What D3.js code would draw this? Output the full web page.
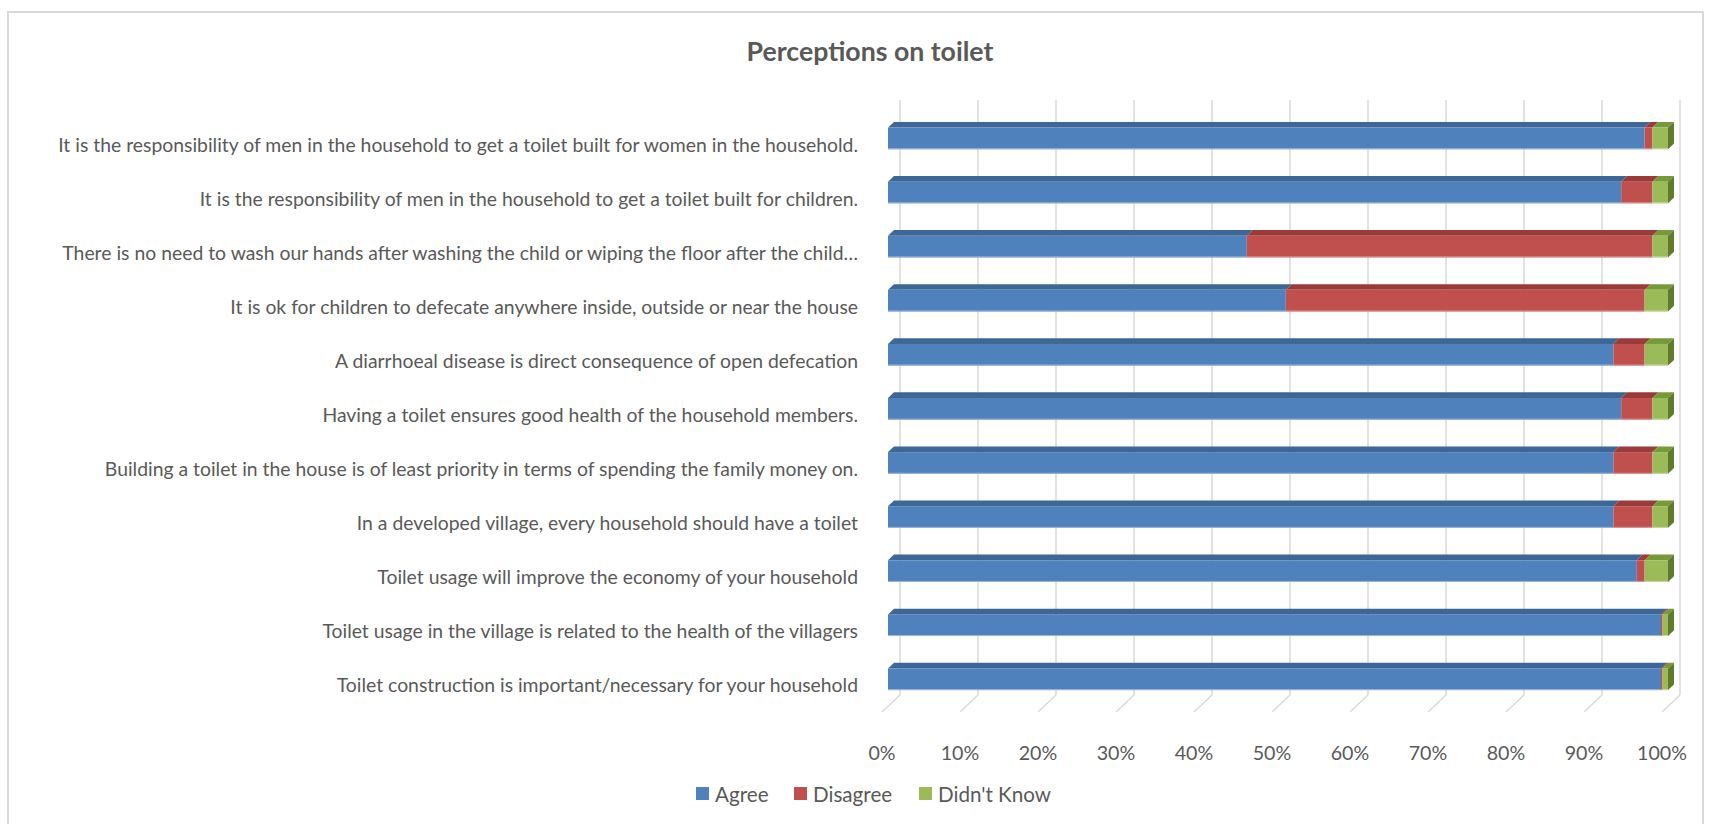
<!DOCTYPE html>
<html>
<head>
<meta charset="utf-8">
<script src="https://cdn.jsdelivr.net/npm/d3@7"></script>
<style>
  html, body { margin: 0; padding: 0; background: #fff; }
  svg { display: block; }
</style>
</head>
<body>
<svg id="chart" width="1711" height="824"></svg>
<script>
// Survey statements, listed top to bottom
const categories = [
  "It is the responsibility of men in the household to get a toilet built for women in the household.",
  "It is the responsibility of men in the household to get a toilet built for children.",
  "There is no need to wash our hands after washing the child or wiping the floor after the child\u2026",
  "It is ok for children to defecate anywhere inside, outside or near the house",
  "A diarrhoeal disease is direct consequence of open defecation",
  "Having a toilet ensures good health of the household members.",
  "Building a toilet in the house is of least priority in terms of spending the family money on.",
  "In a developed village, every household should have a toilet",
  "Toilet usage will improve the economy of your household",
  "Toilet usage in the village is related to the health of the villagers",
  "Toilet construction is important/necessary for your household"
];

// Share of responses (%) per statement
const agree     = [97, 94, 46, 51, 93, 94, 93, 93, 96, 99.1, 99.1];
const disagree  = [1,  4,  52, 46, 4,  4,  5,  5,  1,  0.2,  0.2];
const didntKnow = [2,  2,  2,  3,  3,  2,  2,  2,  3,  0.7,  0.7];

const seriesNames = ["Agree", "Disagree", "Didn't Know"];
const tickValues = [0, 0.1, 0.2, 0.3, 0.4, 0.5, 0.6, 0.7, 0.8, 0.9, 1.0];

const FONT = "Lato, 'Open Sans', sans-serif";
const TEXT = "#595959";
const GRID = "#d9d9d9";

const faces = {
  "Agree":       { front: "#4f81bd", top: "#3d6796", side: "#35598a", edge: "#9cb6d9" },
  "Disagree":    { front: "#c0504d", top: "#9a3b39", side: "#86302e", edge: "#dc9a98" },
  "Didn't Know": { front: "#9bbb59", top: "#779a38", side: "#5f7c2c", edge: "#c7da9e" }
};

const svg = d3.select("#chart");

// Font size that makes a string span a given width
function fitSize(str, width, weight) {
  const t = svg.append("text").attr("font-family", FONT).attr("font-size", 100)
    .attr("font-weight", weight || "normal").text(str);
  const len = t.node().getComputedTextLength();
  t.remove();
  return 100 * width / len;
}

// Outer chart border
svg.append("rect")
  .attr("x", 8).attr("y", 12).attr("width", 1695).attr("height", 830)
  .attr("fill", "none").attr("stroke", GRID).attr("stroke-width", 2);

// Title
svg.append("text")
  .attr("x", 870).attr("y", 51)
  .attr("text-anchor", "middle").attr("dominant-baseline", "central")
  .attr("font-family", FONT).attr("font-weight", "bold")
  .attr("font-size", fitSize("Perceptions on toilet", 247, "bold"))
  .attr("fill", TEXT)
  .text("Perceptions on toilet");

// Oblique 3D projection: front plane scales plus a depth vector
const depth = { dx: 18, dy: -17 };
const x = d3.scaleLinear().domain([0, 1]).range([882, 1662]);
const y = d3.scaleBand().domain(categories).range([117, 712])
  .paddingInner(0.6).paddingOuter(0.3);

// Back-wall gridlines and floor lines
const grid = svg.append("g");
tickValues.forEach(v => {
  const bx = x(v) + depth.dx;
  const floorBack = 712 + depth.dy;
  grid.append("line")
    .attr("x1", bx).attr("x2", bx)
    .attr("y1", 117 + depth.dy).attr("y2", floorBack)
    .attr("stroke", GRID).attr("stroke-width", 1.5);
  grid.append("line")
    .attr("x1", bx).attr("y1", floorBack)
    .attr("x2", x(v)).attr("y2", 712)
    .attr("stroke", GRID).attr("stroke-width", 1.5);
});

// Tick labels along the front edge
const tickFont = fitSize("100%", 50);
const fmt = d3.format(".0%");
svg.append("g").selectAll("text").data(tickValues).join("text")
  .attr("x", d => x(d)).attr("y", 752)
  .attr("text-anchor", "middle").attr("dominant-baseline", "central")
  .attr("font-family", FONT).attr("font-size", tickFont)
  .attr("fill", TEXT)
  .text(d => fmt(d));

// Category labels
const labelFont = fitSize(categories[0], 800);
svg.append("g").selectAll("text").data(categories).join("text")
  .attr("x", 858).attr("y", d => y(d) + y.bandwidth() / 2)
  .attr("text-anchor", "end").attr("dominant-baseline", "central")
  .attr("font-family", FONT).attr("font-size", labelFont)
  .attr("fill", TEXT)
  .text(d => d);

// Stacked data
const rows = categories.map((c, i) => ({
  cat: c, "Agree": agree[i], "Disagree": disagree[i], "Didn't Know": didntKnow[i]
}));
const stacked = d3.stack().keys(seriesNames).offset(d3.stackOffsetExpand)(rows);

// Bars sit in the middle third of the depth
const fx = depth.dx / 3, fy = depth.dy / 3;
const bars = svg.append("g");
rows.forEach((row, i) => {
  const y0 = y(row.cat) + fy;
  const h = y.bandwidth();
  const segs = stacked.map(s => ({ key: s.key, a: s[i][0], b: s[i][1] }))
    .filter(s => s.b - s.a > 0);
  segs.forEach((s, j) => {
    const c = faces[s.key];
    const xa = x(s.a) + fx, xb = x(s.b) + fx;
    // top face
    bars.append("path")
      .attr("d", `M${xa},${y0}L${xa + fx},${y0 + fy}L${xb + fx},${y0 + fy}L${xb},${y0}Z`)
      .attr("fill", c.top);
    // right face of the last segment
    if (j === segs.length - 1) {
      bars.append("path")
        .attr("d", `M${xb},${y0}L${xb + fx},${y0 + fy}L${xb + fx},${y0 + fy + h}L${xb},${y0 + h}Z`)
        .attr("fill", c.side);
    }
    // front face
    bars.append("rect")
      .attr("x", xa).attr("y", y0).attr("width", xb - xa).attr("height", h)
      .attr("fill", c.front);
    bars.append("line")
      .attr("x1", xa).attr("x2", xb).attr("y1", y0 + h - 0.5).attr("y2", y0 + h - 0.5)
      .attr("stroke", c.edge).attr("stroke-width", 1);
  });
});

// Legend
const legendFont = fitSize("Didn't Know", 113);
const legendX = [696, 794, 919];
const legend = svg.append("g");
seriesNames.forEach((name, i) => {
  legend.append("rect")
    .attr("x", legendX[i]).attr("y", 787).attr("width", 13).attr("height", 13)
    .attr("fill", faces[name].front);
  legend.append("text")
    .attr("x", legendX[i] + 19).attr("y", 793.5)
    .attr("dominant-baseline", "central")
    .attr("font-family", FONT).attr("font-size", legendFont)
    .attr("fill", TEXT)
    .text(name);
});
</script>
</body>
</html>
